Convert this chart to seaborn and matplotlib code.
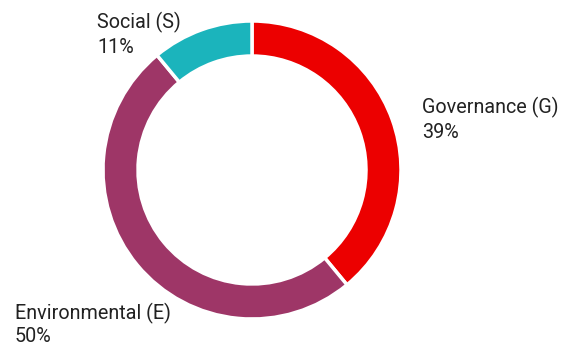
import matplotlib
matplotlib.use("Agg")
import matplotlib.pyplot as plt
import seaborn as sns

# ESG split data
labels = ["Governance (G)", "Environmental (E)", "Social (S)"]
shares = [39, 50, 11]
colors = ["#EC0000", "#9E3667", "#1BB4BC"]

sns.set_theme(style="white")
plt.rcParams['font.family'] = ['Roboto', 'DejaVu Sans']
palette = sns.color_palette(colors)

fig = plt.figure(figsize=(5.74, 3.45), dpi=100)
ax = fig.add_axes([0, 0, 1, 1])

# donut centred in pixel-space coordinates
ax.pie(shares, colors=palette, startangle=90, counterclock=False,
       center=(252, 175), radius=149, frame=True,
       wedgeprops=dict(width=35, edgecolor="white", linewidth=2.5))
ax.set_xlim(0, 574)
ax.set_ylim(0, 345)
ax.set_aspect("equal")
ax.axis("off")

# label baselines (pixel coords, y from bottom): first line, second line
label_pos = [(422, 232, 207), (15, 26, 3), (97, 317, 292)]
for lab, val, (x, y1, y2) in zip(labels, shares, label_pos):
    ax.text(x, y1, lab, fontsize=14.2, color="#222222", ha="left", va="baseline")
    ax.text(x, y2, f"{val}%", fontsize=14.2, color="#222222", ha="left", va="baseline")

fig.savefig("out.png", dpi=100)
